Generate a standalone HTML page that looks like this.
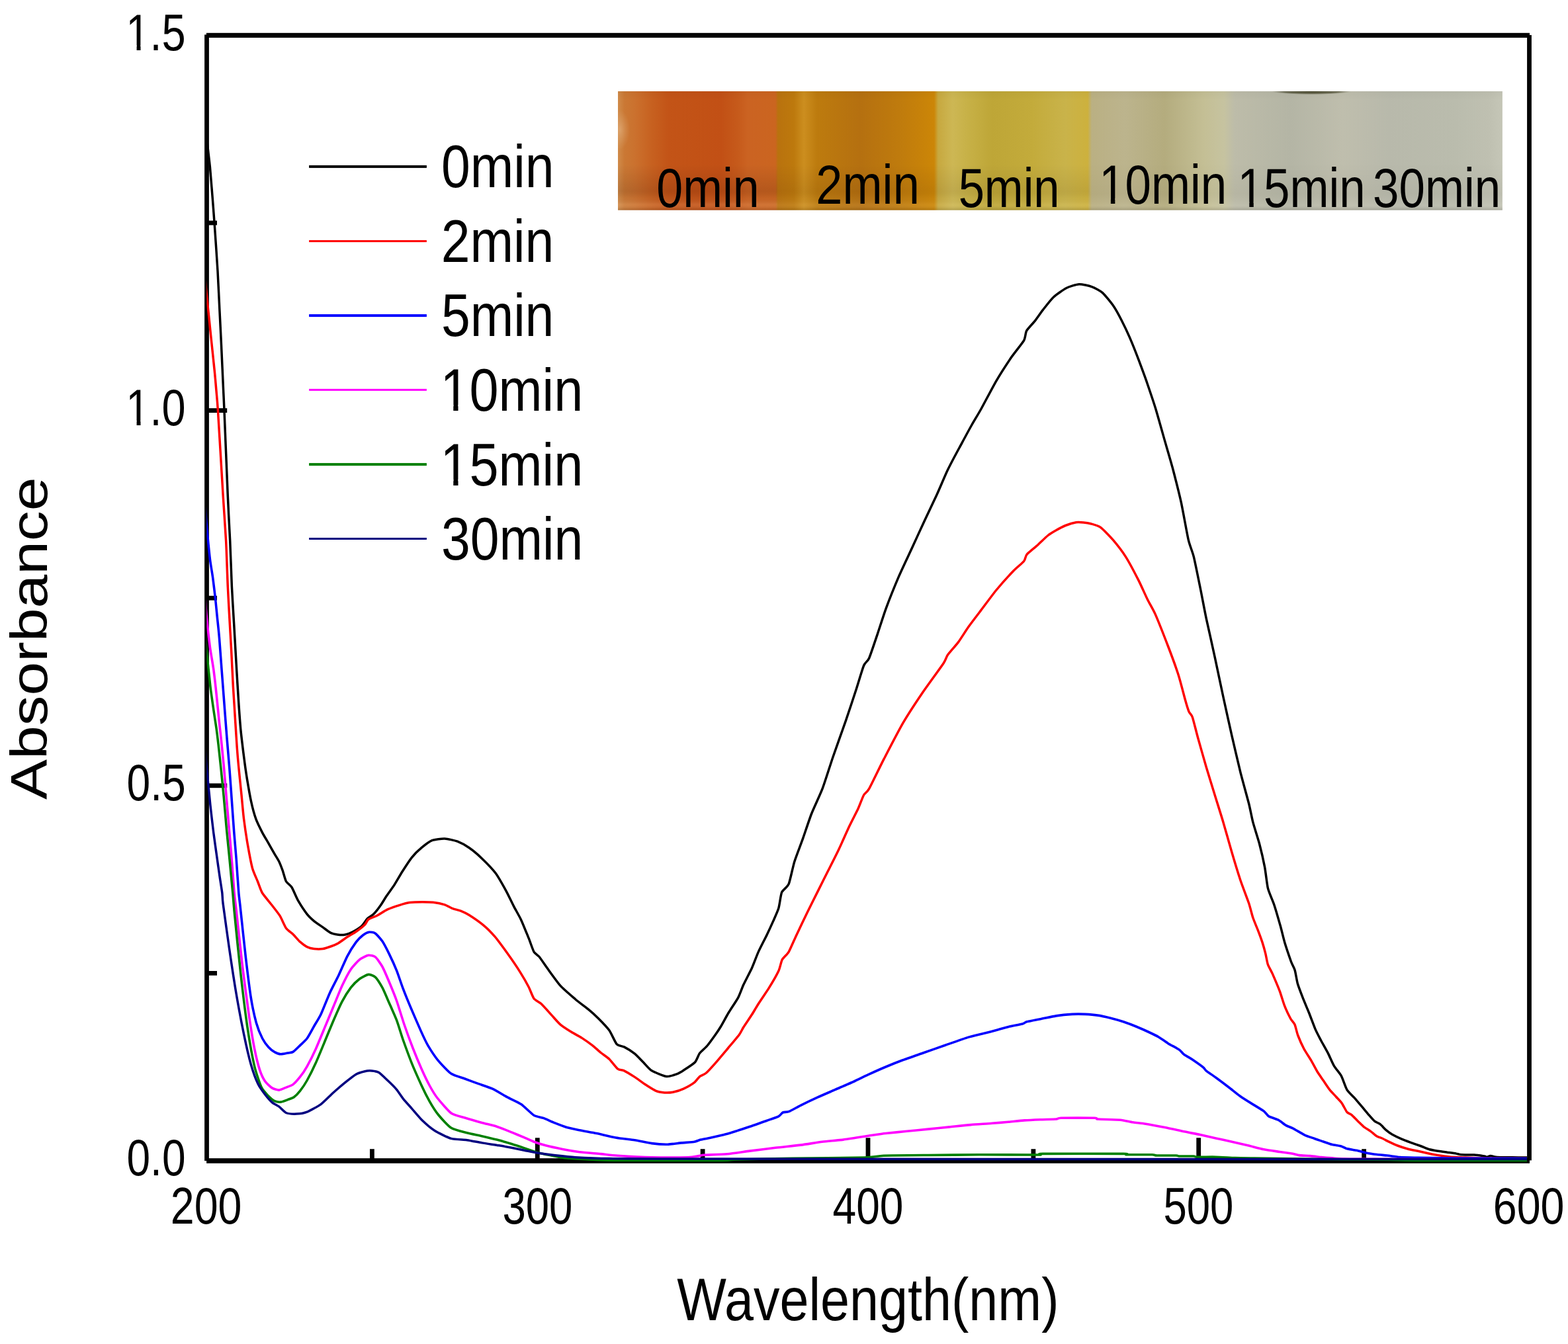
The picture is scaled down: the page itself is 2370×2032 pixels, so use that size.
<!DOCTYPE html>
<html lang="en"><head><meta charset="utf-8"><title>UV-Vis absorbance spectra</title>
<style>
html,body{margin:0;padding:0;background:#fff}
body{width:2370px;height:2032px;overflow:hidden}
svg{display:block}
text{font-family:"Liberation Sans",sans-serif;fill:#000}
.ax{stroke:#000;fill:none;stroke-linecap:butt}
.cv{fill:none;stroke-linejoin:round;stroke-linecap:butt}
</style></head><body>
<svg width="2370" height="2032" viewBox="0 0 2370 2032">
<rect width="2370" height="2032" fill="#fff"/>
<defs><clipPath id="c1"><rect x="-20" y="-120" width="1200" height="110.4"/><rect x="25.0" y="-11" width="9.1" height="13"/><rect x="52.5" y="-11" width="1200" height="51"/></clipPath></defs>
<defs><linearGradient id="ih" x1="0" y1="0" x2="1" y2="0"><stop offset="0.0000" stop-color="#d08b4a"/><stop offset="0.0075" stop-color="#ca7834"/><stop offset="0.0194" stop-color="#cb712e"/><stop offset="0.0381" stop-color="#c76120"/><stop offset="0.0568" stop-color="#c35417"/><stop offset="0.1167" stop-color="#c25015"/><stop offset="0.1354" stop-color="#c65a1b"/><stop offset="0.1466" stop-color="#cb6322"/><stop offset="0.1780" stop-color="#cb6520"/><stop offset="0.1810" stop-color="#b9720e"/><stop offset="0.1990" stop-color="#bd790d"/><stop offset="0.2102" stop-color="#cc8e1f"/><stop offset="0.2251" stop-color="#bd7b0e"/><stop offset="0.2738" stop-color="#b57010"/><stop offset="0.3186" stop-color="#bf7b0d"/><stop offset="0.3575" stop-color="#cc8607"/><stop offset="0.3620" stop-color="#c7a83f"/><stop offset="0.3785" stop-color="#cdb754"/><stop offset="0.3949" stop-color="#c7b147"/><stop offset="0.4234" stop-color="#bea637"/><stop offset="0.4682" stop-color="#c3ab3b"/><stop offset="0.5056" stop-color="#c9b34a"/><stop offset="0.5311" stop-color="#cdb13d"/><stop offset="0.5356" stop-color="#bab083"/><stop offset="0.5730" stop-color="#bcb48d"/><stop offset="0.6178" stop-color="#b4ac7e"/><stop offset="0.6627" stop-color="#c4bf95"/><stop offset="0.6852" stop-color="#c6c3a0"/><stop offset="0.6971" stop-color="#bdbca9"/><stop offset="0.7600" stop-color="#b4b5a5"/><stop offset="0.8198" stop-color="#bfbead"/><stop offset="0.8722" stop-color="#b8b9ab"/><stop offset="0.9470" stop-color="#babcad"/><stop offset="0.9844" stop-color="#bfc0b1"/><stop offset="1.0001" stop-color="#c5c6b7"/></linearGradient><linearGradient id="iv" x1="0" y1="0" x2="0" y2="1"><stop offset="0" stop-color="#000" stop-opacity="0.03"/><stop offset="0.08" stop-color="#000" stop-opacity="0"/><stop offset="0.6" stop-color="#000" stop-opacity="0"/><stop offset="0.86" stop-color="#000" stop-opacity="0.035"/><stop offset="0.96" stop-color="#fff" stop-opacity="0.05"/><stop offset="1" stop-color="#000" stop-opacity="0.14"/></linearGradient><radialGradient id="sm" cx="0.5" cy="0" r="0.5" gradientTransform="matrix(1 0 0 2 0 0)"><stop offset="0" stop-color="#3c3c20" stop-opacity="0.95"/><stop offset="0.7" stop-color="#4a4a30" stop-opacity="0.7"/><stop offset="1" stop-color="#606048" stop-opacity="0"/></radialGradient><linearGradient id="iv2" x1="0" y1="0" x2="0" y2="1"><stop offset="0.62" stop-color="#200" stop-opacity="0"/><stop offset="0.84" stop-color="#200" stop-opacity="0.10"/><stop offset="0.9" stop-color="#200" stop-opacity="0.02"/><stop offset="0.95" stop-color="#fec" stop-opacity="0.07"/><stop offset="1" stop-color="#fec" stop-opacity="0"/></linearGradient><radialGradient id="lp"><stop offset="0" stop-color="#e6b888" stop-opacity="0.55"/><stop offset="1" stop-color="#e0b080" stop-opacity="0"/></radialGradient><clipPath id="ic"><rect x="934" y="138" width="1336.9" height="179.7"/></clipPath></defs><rect x="934.0" y="138.0" width="1336.9" height="179.7" fill="url(#ih)"/><rect x="934.0" y="138.0" width="1336.9" height="179.7" fill="url(#iv)"/><rect x="934" y="138" width="241" height="179.7" fill="url(#iv2)"/><rect x="1175" y="138" width="472" height="179.7" fill="url(#iv2)" opacity="0.45"/><ellipse clip-path="url(#ic)" cx="937" cy="196" rx="15" ry="30" fill="url(#lp)"/><rect x="1922" y="138" width="120" height="5" fill="url(#sm)"/><text transform="matrix(0.7172 0 0 0.8286 992.30 313.07)" font-size="100">0min</text><text transform="matrix(0.7216 0 0 0.8345 1233.37 308.20)" font-size="100">2min</text><text transform="matrix(0.7057 0 0 0.8367 1448.63 313.46)" font-size="100">5min</text><text transform="matrix(0.7087 0 0 0.8367 1661.18 308.36)" font-size="100" clip-path="url(#c1)">10min</text><text transform="matrix(0.7091 0 0 0.8367 1870.58 313.46)" font-size="100" clip-path="url(#c1)">15min</text><text transform="matrix(0.7087 0 0 0.8367 2075.08 313.46)" font-size="100">30min</text>
<g class="ax">
<rect x="309.1" y="52.4" width="6.8" height="1702.7" fill="#000" stroke="none"/>
<rect x="311.9" y="49.8" width="2000.1" height="7.2" fill="#000" stroke="none"/>
<rect x="2308.1" y="53.0" width="6.8" height="1701.4" fill="#000" stroke="none"/>
<rect x="312.1" y="1751.2" width="1999.9" height="7.6" fill="#000" stroke="none"/>
<rect x="312" y="617.2" width="31.2" height="6.8" fill="#000" stroke="none"/>
<rect x="312" y="1184.4" width="31.2" height="6.8" fill="#000" stroke="none"/>
<rect x="312" y="333.6" width="16.0" height="6.8" fill="#000" stroke="none"/>
<rect x="312" y="900.8" width="16.0" height="6.8" fill="#000" stroke="none"/>
<rect x="312" y="1468.0" width="16.0" height="6.8" fill="#000" stroke="none"/>
<rect x="808.9" y="1720.3" width="6.8" height="34.7" fill="#000" stroke="none"/>
<rect x="1308.6" y="1720.3" width="6.8" height="34.7" fill="#000" stroke="none"/>
<rect x="1808.3" y="1720.3" width="6.8" height="34.7" fill="#000" stroke="none"/>
<rect x="559.0" y="1737.2" width="6.8" height="17.8" fill="#000" stroke="none"/>
<rect x="1058.7" y="1737.2" width="6.8" height="17.8" fill="#000" stroke="none"/>
<rect x="1558.5" y="1737.2" width="6.8" height="17.8" fill="#000" stroke="none"/>
<rect x="2058.2" y="1737.2" width="6.8" height="17.8" fill="#000" stroke="none"/>
</g>
<defs><clipPath id="pc"><rect x="312.4" y="53.4" width="1999.6" height="1703.2"/></clipPath></defs>
<g class="cv" clip-path="url(#pc)">
<path d="M311.5 201.0C311.6 201.9 312.2 206.8 312.5 209.5C312.8 212.2 313.9 221.4 314.4 226.0C314.9 230.6 316.8 246.3 317.4 252.5C318.0 258.7 319.4 277.1 320.0 284.0C320.6 290.9 322.2 311.3 322.6 317.0C323.0 322.7 323.4 327.3 324.1 337.2C324.8 347.1 328.2 395.7 329.0 410.0C329.8 424.3 331.4 458.9 332.0 470.8C332.6 482.7 333.9 508.8 334.5 521.5C335.1 534.2 337.1 579.4 337.6 590.0C338.1 600.6 338.3 603.8 339.0 620.9C339.7 638.0 343.4 729.0 344.3 750.0C345.2 771.0 347.0 803.0 347.7 817.6C348.4 832.2 349.8 873.7 350.4 887.0C351.0 900.3 352.9 929.4 353.6 942.0C354.3 954.6 356.5 992.4 357.2 1004.9C357.9 1017.4 359.8 1048.3 360.5 1058.9C361.2 1069.5 363.0 1094.9 363.9 1104.0C364.8 1113.1 367.6 1135.9 368.6 1143.8C369.6 1151.7 372.2 1170.4 373.4 1177.6C374.6 1184.8 378.1 1204.9 379.5 1211.4C380.9 1217.9 385.1 1233.4 386.9 1238.4C388.7 1243.4 394.4 1254.7 396.4 1258.6C398.4 1262.5 403.8 1271.4 405.8 1274.9C407.8 1278.4 413.3 1288.2 415.0 1291.1C416.7 1294.0 420.2 1299.4 421.5 1302.0C422.8 1304.6 425.9 1312.6 427.1 1315.9C428.3 1319.2 430.9 1329.8 432.4 1332.5C433.9 1335.2 439.0 1338.3 441.0 1341.5C443.0 1344.7 448.4 1357.9 450.9 1362.2C453.4 1366.5 461.6 1378.9 464.1 1382.1C466.6 1385.3 472.2 1390.5 474.7 1392.6C477.2 1394.7 485.2 1400.0 487.9 1401.9C490.6 1403.8 497.3 1409.2 499.8 1410.4C502.3 1411.6 509.4 1413.0 511.8 1413.3C514.2 1413.6 520.0 1413.4 522.3 1413.0C524.6 1412.6 530.4 1410.4 532.9 1409.1C535.4 1407.8 543.8 1402.8 546.2 1400.6C548.6 1398.4 553.4 1390.7 555.4 1388.7C557.4 1386.7 562.6 1384.2 564.7 1382.1C566.8 1380.0 573.2 1371.8 575.3 1368.8C577.4 1365.8 582.2 1357.7 584.5 1354.3C586.8 1350.9 594.0 1341.1 596.5 1337.1C599.0 1333.1 605.6 1321.6 608.4 1317.2C611.2 1312.8 619.5 1300.1 622.5 1296.3C625.5 1292.5 633.6 1284.5 636.9 1281.8C640.2 1279.1 649.2 1272.1 653.0 1270.6C656.8 1269.1 668.1 1267.8 672.2 1268.0C676.3 1268.2 687.6 1270.7 691.5 1272.2C695.4 1273.7 705.2 1279.1 709.1 1281.8C713.0 1284.5 724.1 1293.8 728.4 1297.9C732.7 1302.0 745.3 1315.0 749.2 1320.3C753.1 1325.6 762.4 1342.3 765.3 1347.6C768.2 1352.9 774.1 1365.5 776.5 1370.1C778.9 1374.7 785.3 1385.8 787.7 1390.9C790.1 1396.0 796.9 1413.1 799.0 1418.2C801.1 1423.3 805.3 1436.1 807.0 1439.1C808.7 1442.1 812.8 1443.8 815.0 1446.5C817.2 1449.2 824.5 1460.1 827.9 1464.8C831.3 1469.5 842.7 1485.5 847.1 1490.4C851.5 1495.3 865.2 1506.9 869.6 1510.7C874.0 1514.5 885.0 1522.6 888.8 1525.7C892.6 1528.8 901.5 1536.8 904.9 1540.2C908.3 1543.6 918.0 1553.7 920.9 1557.8C923.8 1561.9 929.8 1576.0 932.2 1578.7C934.6 1581.4 940.5 1581.4 943.4 1582.9C946.3 1584.4 956.3 1590.6 959.4 1593.1C962.5 1595.6 969.6 1603.3 972.3 1606.0C975.0 1608.7 981.3 1616.5 985.1 1618.8C988.9 1621.1 1003.5 1627.0 1007.6 1627.5C1011.7 1628.0 1020.9 1624.6 1023.6 1623.6C1026.3 1622.6 1030.3 1620.1 1033.2 1618.2C1036.1 1616.3 1047.9 1608.8 1050.5 1606.0C1053.1 1603.2 1055.6 1595.0 1057.6 1592.3C1059.6 1589.6 1066.5 1584.0 1069.0 1581.0C1071.5 1578.0 1079.2 1567.3 1081.4 1564.2C1083.6 1561.1 1087.4 1555.5 1089.5 1552.0C1091.6 1548.5 1098.2 1536.2 1101.0 1531.5C1103.8 1526.8 1113.4 1512.7 1115.8 1508.1C1118.2 1503.5 1121.6 1493.6 1123.8 1488.8C1126.0 1484.0 1134.2 1468.5 1136.6 1463.2C1139.0 1457.9 1143.9 1444.4 1146.3 1439.1C1148.7 1433.8 1156.7 1418.4 1159.1 1413.4C1161.5 1408.4 1166.8 1396.9 1168.7 1392.6C1170.6 1388.3 1175.4 1377.9 1176.8 1373.3C1178.2 1368.7 1180.0 1353.1 1181.6 1349.2C1183.2 1345.3 1190.2 1341.4 1192.2 1336.4C1194.2 1331.4 1198.5 1310.1 1200.8 1302.7C1203.1 1295.3 1211.0 1275.1 1213.7 1267.4C1216.4 1259.7 1223.4 1238.5 1226.5 1230.5C1229.6 1222.5 1239.6 1201.6 1243.1 1192.4C1246.6 1183.2 1255.3 1155.2 1259.1 1144.2C1262.9 1133.2 1274.6 1100.7 1278.4 1089.7C1282.2 1078.7 1291.5 1050.4 1294.4 1041.5C1297.3 1032.6 1303.5 1011.2 1305.6 1006.2C1307.7 1001.2 1311.5 1000.1 1313.7 995.0C1315.9 989.9 1323.8 966.1 1326.5 958.1C1329.2 950.1 1335.9 928.8 1339.3 919.6C1342.7 910.4 1354.5 881.0 1358.6 871.4C1362.7 861.8 1373.8 838.6 1377.9 829.7C1382.0 820.8 1393.0 796.8 1397.1 788.0C1401.2 779.2 1412.4 755.7 1416.2 747.5C1420.0 739.3 1428.7 718.3 1432.3 710.8C1435.9 703.3 1446.1 684.2 1450.0 677.0C1453.9 669.8 1464.9 649.3 1468.5 643.0C1472.1 636.7 1479.4 624.7 1483.4 617.5C1487.4 610.3 1501.1 584.0 1505.9 575.8C1510.7 567.6 1524.0 547.0 1528.4 540.5C1532.8 534.0 1545.1 519.1 1547.6 514.8C1550.1 510.5 1549.8 503.4 1551.5 500.3C1553.2 497.2 1561.0 489.3 1563.7 485.9C1566.4 482.5 1573.4 472.2 1576.5 468.3C1579.6 464.4 1588.8 452.5 1592.6 449.0C1596.4 445.5 1607.7 437.6 1611.8 435.5C1615.9 433.4 1627.0 429.9 1631.1 429.7C1635.2 429.5 1646.5 432.2 1650.3 433.6C1654.1 435.0 1663.0 439.6 1666.4 442.6C1669.8 445.6 1679.3 457.4 1682.4 461.8C1685.5 466.2 1692.5 479.0 1695.2 484.3C1697.9 489.6 1705.4 505.3 1708.1 511.6C1710.8 517.9 1718.2 536.5 1720.9 543.7C1723.6 550.9 1731.1 571.1 1733.8 579.0C1736.5 586.9 1743.9 608.6 1746.6 617.5C1749.3 626.4 1756.7 652.8 1759.4 662.4C1762.1 672.0 1769.6 697.0 1772.3 707.3C1775.0 717.6 1782.5 747.1 1785.1 758.7C1787.7 770.3 1794.2 807.5 1796.3 816.4C1798.4 825.3 1802.4 833.9 1804.4 842.1C1806.4 850.3 1813.0 883.1 1815.0 893.0C1817.0 902.9 1821.0 924.6 1823.3 935.3C1825.6 946.0 1833.4 980.4 1836.1 993.1C1838.8 1005.8 1846.3 1041.3 1849.0 1054.0C1851.7 1066.7 1859.1 1099.8 1861.8 1111.8C1864.5 1123.8 1871.9 1155.4 1874.6 1166.4C1877.3 1177.4 1885.4 1206.3 1887.5 1214.5C1889.6 1222.7 1892.2 1236.9 1893.9 1243.4C1895.6 1249.9 1901.6 1268.3 1903.5 1275.5C1905.4 1282.7 1910.2 1303.6 1911.6 1310.8C1913.0 1318.0 1914.9 1336.7 1916.4 1342.9C1917.9 1349.1 1924.0 1362.4 1926.0 1368.5C1928.0 1374.6 1933.7 1394.3 1935.4 1400.3C1937.1 1406.3 1940.1 1419.3 1941.8 1425.0C1943.5 1430.7 1949.9 1449.5 1951.5 1454.0C1953.1 1458.5 1956.2 1463.5 1957.2 1467.0C1958.2 1470.5 1960.1 1482.7 1961.3 1487.0C1962.5 1491.3 1966.9 1502.7 1968.7 1507.4C1970.5 1512.1 1976.3 1525.8 1978.4 1531.0C1980.5 1536.2 1986.1 1551.4 1988.0 1555.9C1989.9 1560.4 1994.4 1568.8 1996.5 1572.8C1998.6 1576.8 2005.8 1589.4 2007.9 1593.6C2010.0 1597.8 2014.5 1608.4 2016.6 1611.9C2018.7 1615.4 2025.1 1622.6 2027.2 1626.4C2029.3 1630.2 2033.8 1644.1 2035.9 1647.6C2038.0 1651.1 2044.1 1656.5 2046.5 1659.2C2048.9 1661.9 2055.8 1670.0 2058.1 1672.7C2060.4 1675.4 2065.7 1681.9 2067.8 1684.3C2069.9 1686.7 2075.4 1693.3 2077.4 1694.9C2079.4 1696.5 2084.2 1698.3 2086.1 1699.7C2088.0 1701.1 2092.8 1706.7 2094.8 1708.4C2096.8 1710.1 2101.9 1713.8 2104.4 1715.2C2106.9 1716.6 2115.1 1720.6 2118.0 1721.9C2120.9 1723.2 2128.4 1726.0 2131.5 1727.1C2134.6 1728.2 2143.8 1731.4 2146.9 1732.5C2150.0 1733.6 2157.5 1737.0 2160.4 1737.8C2163.3 1738.6 2171.0 1739.8 2173.9 1740.3C2176.8 1740.8 2184.6 1741.8 2187.5 1742.2C2190.4 1742.6 2198.7 1743.7 2201.0 1744.1C2203.3 1744.5 2205.8 1745.5 2208.7 1745.7C2211.6 1745.9 2224.3 1745.9 2228.0 1746.1C2231.7 1746.3 2241.3 1747.7 2243.4 1748.0C2245.5 1748.3 2246.3 1749.4 2247.3 1749.3C2248.3 1749.2 2251.5 1747.4 2253.1 1747.4C2254.7 1747.4 2256.8 1749.2 2262.7 1749.5C2268.6 1749.8 2303.2 1749.9 2308.0 1750.0" stroke="#000000" stroke-width="3.5"/>
<path d="M310.0 421.0C310.3 423.7 311.4 436.4 312.4 446.0C313.4 455.6 317.8 499.0 319.1 511.4C320.4 523.8 323.6 553.6 324.4 562.0C325.2 570.4 326.4 583.7 326.9 590.0C327.4 596.3 328.3 603.8 329.4 620.9C330.5 638.0 335.9 729.0 337.2 750.0C338.5 771.0 340.8 803.0 341.6 817.6C342.4 832.2 343.7 874.2 344.3 887.0C344.9 899.8 346.4 926.9 347.0 937.3C347.6 947.7 349.1 973.8 349.7 984.6C350.3 995.4 351.7 1027.1 352.4 1038.6C353.1 1050.1 355.2 1083.0 355.8 1092.7C356.4 1102.4 357.7 1123.1 358.2 1130.0C358.7 1136.9 359.8 1150.1 360.5 1157.3C361.2 1164.5 363.7 1189.1 364.6 1197.8C365.5 1206.5 367.5 1229.7 368.6 1238.4C369.7 1247.1 373.3 1271.0 374.7 1278.9C376.1 1286.8 379.9 1306.9 381.5 1312.7C383.1 1318.5 388.0 1329.0 389.6 1333.0C391.2 1337.0 394.1 1346.2 396.4 1350.0C398.7 1353.8 408.4 1365.1 411.2 1368.8C414.0 1372.5 420.8 1381.0 423.1 1384.7C425.4 1388.4 430.3 1400.2 432.4 1403.2C434.5 1406.2 440.6 1410.3 442.9 1412.5C445.2 1414.7 451.2 1421.9 453.5 1423.9C455.8 1425.9 461.8 1430.5 464.1 1431.6C466.4 1432.7 472.2 1434.2 474.7 1434.5C477.2 1434.8 485.1 1434.9 487.9 1434.5C490.7 1434.1 498.7 1431.4 501.2 1430.5C503.7 1429.6 509.3 1427.2 511.8 1425.7C514.3 1424.2 522.2 1418.3 525.0 1416.5C527.8 1414.7 535.4 1410.5 538.2 1408.5C541.0 1406.5 549.5 1399.9 551.5 1397.9C553.5 1395.9 554.8 1391.5 556.8 1390.0C558.8 1388.5 566.9 1385.8 570.0 1384.2C573.1 1382.6 582.2 1376.6 585.9 1374.9C589.6 1373.2 600.8 1369.4 604.4 1368.3C608.0 1367.2 615.7 1365.1 619.3 1364.6C622.9 1364.1 634.7 1363.7 638.5 1363.7C642.3 1363.7 651.0 1363.9 654.6 1364.3C658.2 1364.7 669.1 1366.8 672.2 1367.8C675.3 1368.8 680.8 1372.3 683.4 1373.3C686.0 1374.3 693.6 1376.1 696.3 1377.2C699.0 1378.3 705.3 1381.2 709.1 1383.6C712.9 1386.0 727.5 1396.2 731.6 1399.6C735.7 1403.0 743.8 1411.3 747.6 1415.7C751.4 1420.1 762.8 1435.6 766.9 1441.3C771.0 1447.0 782.7 1464.2 786.1 1469.6C789.5 1475.0 796.8 1487.7 799.0 1492.0C801.2 1496.3 805.0 1507.0 807.0 1509.7C809.0 1512.4 815.3 1515.0 818.2 1517.7C821.1 1520.4 831.2 1532.0 834.3 1535.4C837.4 1538.8 844.0 1546.6 847.1 1549.2C850.2 1551.8 859.8 1558.0 863.2 1560.1C866.6 1562.2 875.8 1566.9 879.2 1569.1C882.6 1571.3 892.1 1577.9 895.2 1580.3C898.3 1582.7 905.4 1589.3 908.1 1591.5C910.8 1593.7 918.2 1598.6 920.9 1601.2C923.6 1603.8 931.4 1614.3 933.8 1616.2C936.2 1618.1 940.7 1617.5 943.4 1618.8C946.1 1620.1 956.0 1626.2 959.4 1628.4C962.8 1630.6 972.1 1637.5 975.5 1639.7C978.9 1641.9 988.4 1648.0 991.5 1649.3C994.6 1650.6 1001.7 1651.7 1004.4 1651.9C1007.1 1652.1 1014.1 1651.8 1017.2 1651.2C1020.3 1650.6 1029.8 1647.7 1033.2 1646.1C1036.6 1644.5 1046.9 1638.6 1049.5 1636.6C1052.1 1634.6 1055.7 1629.1 1057.6 1627.6C1059.5 1626.1 1064.4 1624.7 1067.0 1622.5C1069.6 1620.3 1078.1 1610.9 1081.7 1606.8C1085.3 1602.7 1097.2 1588.5 1101.0 1584.0C1104.8 1579.5 1115.0 1567.5 1117.4 1564.2C1119.8 1560.9 1121.8 1556.2 1123.8 1553.0C1125.8 1549.8 1134.2 1537.6 1136.6 1533.8C1139.0 1530.0 1143.6 1522.0 1146.3 1517.7C1149.0 1513.4 1159.0 1498.9 1162.3 1493.6C1165.6 1488.3 1174.7 1472.5 1176.8 1468.0C1178.9 1463.5 1180.6 1454.1 1182.2 1451.0C1183.8 1447.9 1189.9 1443.1 1192.2 1439.1C1194.5 1435.1 1201.0 1419.7 1204.0 1413.4C1207.0 1407.1 1216.7 1386.7 1220.1 1379.7C1223.5 1372.7 1232.7 1354.4 1236.1 1347.6C1239.5 1340.8 1248.8 1322.3 1252.2 1315.5C1255.6 1308.7 1264.8 1290.6 1268.2 1283.4C1271.6 1276.2 1281.2 1254.6 1284.3 1248.1C1287.4 1241.6 1294.8 1227.4 1297.1 1222.5C1299.4 1217.6 1303.8 1205.2 1305.6 1202.0C1307.4 1198.8 1310.4 1198.2 1313.7 1192.4C1317.0 1186.6 1330.6 1158.0 1336.1 1147.4C1341.6 1136.8 1358.8 1103.5 1365.0 1092.9C1371.2 1082.3 1387.4 1057.6 1393.9 1048.0C1400.4 1038.4 1421.9 1009.2 1426.0 1003.0C1430.1 996.8 1430.0 993.6 1432.4 990.2C1434.8 986.8 1445.1 975.5 1448.5 970.9C1451.9 966.3 1460.3 952.7 1464.0 947.5C1467.7 942.3 1478.3 928.5 1482.8 922.6C1487.3 916.7 1500.8 898.3 1506.0 892.0C1511.2 885.7 1527.3 867.8 1531.7 863.2C1536.1 858.6 1545.4 851.2 1547.6 848.5C1549.8 845.8 1549.8 840.9 1552.0 838.3C1554.2 835.7 1565.1 827.1 1568.5 824.0C1571.9 820.9 1581.1 811.8 1584.0 809.5C1586.9 807.2 1593.0 803.6 1595.8 802.0C1598.6 800.4 1607.2 795.8 1610.5 794.5C1613.8 793.2 1623.6 790.2 1626.5 789.7C1629.4 789.2 1635.5 789.7 1637.8 789.9C1640.1 790.1 1645.8 790.9 1648.5 791.7C1651.2 792.5 1659.6 794.6 1663.2 797.2C1666.8 799.8 1678.3 811.6 1682.4 816.4C1686.5 821.2 1697.6 835.6 1701.7 842.1C1705.8 848.6 1717.4 870.5 1720.9 877.4C1724.4 884.3 1731.8 901.0 1734.5 906.5C1737.2 912.0 1743.0 921.4 1746.3 928.9C1749.6 936.4 1761.7 967.1 1765.5 977.0C1769.3 986.9 1778.9 1013.3 1781.6 1021.9C1784.3 1030.5 1789.6 1051.5 1791.2 1057.3C1792.8 1063.1 1795.8 1073.0 1797.0 1075.9C1798.2 1078.8 1801.0 1080.3 1802.4 1084.5C1803.8 1088.7 1808.3 1107.0 1810.5 1115.0C1812.7 1123.0 1820.6 1150.7 1823.3 1159.9C1826.0 1169.1 1833.4 1192.8 1836.1 1201.7C1838.8 1210.6 1846.3 1234.2 1849.0 1243.4C1851.7 1252.6 1859.1 1279.1 1861.8 1288.3C1864.5 1297.5 1871.9 1321.8 1874.6 1330.0C1877.3 1338.2 1885.4 1359.1 1887.5 1365.3C1889.6 1371.5 1892.4 1383.4 1893.9 1387.8C1895.4 1392.2 1900.0 1402.9 1901.5 1406.8C1903.0 1410.7 1906.6 1420.4 1907.8 1424.1C1909.0 1427.8 1911.8 1437.7 1912.7 1441.3C1913.6 1444.9 1915.2 1454.7 1916.3 1458.0C1917.4 1461.3 1921.5 1468.0 1923.4 1472.4C1925.3 1476.8 1932.5 1493.7 1934.4 1498.9C1936.3 1504.1 1939.9 1516.3 1941.6 1520.7C1943.3 1525.1 1949.0 1537.0 1950.6 1540.0C1952.2 1543.0 1955.8 1546.3 1957.0 1549.0C1958.2 1551.7 1960.3 1561.6 1961.8 1565.5C1963.3 1569.4 1968.8 1581.8 1970.9 1585.8C1973.0 1589.8 1979.5 1599.5 1981.7 1603.2C1983.9 1606.9 1989.4 1617.6 1991.4 1620.8C1993.4 1624.0 1998.1 1630.6 2000.1 1633.5C2002.1 1636.4 2007.7 1645.0 2009.8 1647.6C2011.9 1650.2 2017.5 1656.0 2019.5 1658.2C2021.5 1660.4 2026.5 1665.4 2028.2 1667.9C2029.9 1670.4 2034.4 1679.5 2035.9 1681.4C2037.4 1683.3 2041.0 1683.9 2042.7 1685.3C2044.4 1686.7 2050.2 1692.9 2052.3 1694.9C2054.4 1696.9 2059.9 1702.6 2062.0 1704.2C2064.1 1705.8 2069.5 1708.8 2071.6 1710.3C2073.7 1711.8 2079.4 1717.0 2081.3 1718.1C2083.2 1719.2 2087.2 1720.2 2089.0 1721.0C2090.8 1721.8 2096.1 1724.6 2098.6 1725.8C2101.1 1727.0 2109.1 1730.8 2112.2 1732.0C2115.3 1733.2 2124.3 1736.1 2127.6 1737.0C2130.9 1737.9 2139.8 1739.6 2143.1 1740.3C2146.4 1741.0 2155.2 1743.0 2158.5 1743.7C2161.8 1744.4 2170.4 1746.0 2173.9 1746.6C2177.4 1747.2 2187.4 1748.6 2191.3 1749.0C2195.2 1749.4 2205.9 1749.7 2210.6 1749.9C2215.3 1750.1 2225.3 1750.7 2235.7 1750.9C2246.1 1751.1 2300.3 1751.4 2308.0 1751.5" stroke="#ff0000" stroke-width="3.5"/>
<path d="M310.0 762.0C310.2 765.4 311.5 785.2 312.3 794.0C313.1 802.8 316.3 836.3 317.3 844.6C318.3 852.9 320.5 865.3 321.4 871.6C322.3 877.9 324.6 897.3 325.4 904.1C326.2 910.9 327.8 928.5 328.5 935.0C329.2 941.5 330.8 956.1 331.5 965.0C332.2 973.9 334.6 1006.9 335.5 1018.4C336.4 1029.9 338.8 1062.1 339.6 1072.4C340.4 1082.7 342.1 1105.2 342.9 1115.0C343.7 1124.8 346.2 1153.8 347.0 1164.1C347.8 1174.4 349.7 1201.3 350.4 1211.4C351.1 1221.5 353.1 1249.2 353.8 1258.6C354.5 1268.0 356.5 1289.5 357.2 1299.2C357.9 1308.9 360.1 1342.0 360.8 1350.0C361.5 1358.0 362.4 1363.6 363.5 1374.1C364.6 1384.6 369.8 1433.8 371.5 1448.2C373.2 1462.6 377.7 1498.6 379.4 1509.1C381.1 1519.6 385.5 1539.7 387.3 1546.2C389.1 1552.7 394.6 1566.1 396.6 1570.0C398.6 1573.9 403.9 1581.0 405.9 1583.2C407.9 1585.4 413.1 1589.5 415.1 1590.6C417.1 1591.7 422.3 1593.7 424.4 1593.8C426.5 1593.9 433.0 1592.4 435.0 1592.0C437.0 1591.6 440.9 1591.6 442.9 1590.4C444.9 1589.2 451.2 1582.8 453.5 1580.6C455.8 1578.4 461.8 1573.1 464.1 1570.0C466.4 1566.9 472.4 1555.5 474.7 1551.5C477.0 1547.5 482.8 1538.3 485.3 1532.9C487.8 1527.5 495.7 1507.4 498.5 1501.2C501.3 1495.0 509.0 1480.6 511.8 1474.7C514.6 1468.8 522.2 1451.0 525.0 1445.6C527.8 1440.2 535.7 1427.8 538.2 1424.4C540.7 1421.0 546.7 1415.4 548.8 1413.8C550.9 1412.2 556.1 1409.6 558.1 1409.3C560.1 1409.0 565.2 1409.7 567.3 1411.2C569.4 1412.7 575.6 1419.7 577.9 1423.1C580.2 1426.5 586.2 1438.2 588.5 1442.9C590.8 1447.6 597.3 1461.9 599.5 1467.4C601.7 1472.9 606.7 1488.1 609.0 1494.2C611.3 1500.3 618.5 1518.0 621.4 1524.8C624.3 1531.6 633.3 1552.4 636.0 1558.4C638.7 1564.4 644.0 1575.9 646.8 1580.6C649.6 1585.3 658.0 1598.2 661.8 1602.8C665.6 1607.4 677.6 1620.3 682.0 1623.3C686.4 1626.3 698.4 1629.4 702.7 1631.0C707.0 1632.6 717.6 1636.5 722.0 1638.1C726.4 1639.7 739.6 1643.9 744.4 1646.1C749.2 1648.3 762.3 1656.4 766.9 1658.9C771.5 1661.4 783.4 1666.6 787.7 1669.5C792.0 1672.4 803.4 1684.0 807.0 1686.2C810.6 1688.4 818.1 1689.2 821.4 1690.4C824.7 1691.6 833.7 1695.9 837.5 1697.4C841.3 1698.9 852.6 1703.3 856.7 1704.5C860.8 1705.7 871.2 1707.7 876.0 1708.7C880.8 1709.7 895.9 1712.3 901.7 1713.5C907.5 1714.7 924.4 1718.8 930.6 1719.9C936.8 1721.0 953.6 1722.8 959.4 1723.7C965.2 1724.6 979.8 1727.9 985.1 1728.6C990.4 1729.3 1004.4 1730.3 1009.2 1730.2C1014.0 1730.1 1025.7 1728.3 1030.0 1727.9C1034.3 1727.5 1046.5 1726.8 1049.6 1726.3C1052.7 1725.8 1056.3 1723.8 1059.2 1723.1C1062.1 1722.4 1073.0 1720.5 1077.0 1719.6C1081.0 1718.7 1093.0 1715.9 1097.0 1714.8C1101.0 1713.7 1110.0 1710.9 1114.2 1709.6C1118.4 1708.3 1131.8 1703.8 1136.6 1702.2C1141.4 1700.6 1154.8 1695.7 1159.1 1694.2C1163.4 1692.7 1174.2 1689.1 1176.8 1687.8C1179.4 1686.5 1181.5 1682.8 1183.2 1682.0C1184.9 1681.2 1189.9 1681.6 1192.8 1680.4C1195.7 1679.2 1205.9 1673.4 1210.5 1671.1C1215.1 1668.8 1230.6 1661.4 1236.1 1658.9C1241.6 1656.4 1256.3 1650.1 1261.8 1647.7C1267.3 1645.3 1282.1 1639.0 1287.5 1636.5C1292.9 1634.0 1307.0 1627.1 1312.5 1624.6C1318.0 1622.1 1333.3 1615.3 1338.8 1613.0C1344.3 1610.7 1358.3 1605.1 1364.5 1602.8C1370.7 1600.5 1389.8 1593.9 1396.6 1591.5C1403.4 1589.1 1421.9 1582.7 1428.7 1580.3C1435.5 1577.9 1454.6 1571.0 1460.8 1569.1C1467.0 1567.2 1481.7 1563.8 1486.5 1562.6C1491.3 1561.4 1502.0 1558.6 1506.0 1557.5C1510.0 1556.4 1519.9 1553.5 1524.1 1552.5C1528.3 1551.5 1542.5 1548.8 1545.5 1548.0C1548.5 1547.2 1549.0 1545.6 1551.9 1544.8C1554.8 1544.0 1567.6 1541.6 1572.4 1540.7C1577.2 1539.8 1591.3 1536.7 1596.5 1535.9C1601.7 1535.1 1616.1 1533.7 1620.7 1533.4C1625.3 1533.1 1635.9 1533.2 1640.0 1533.4C1644.1 1533.6 1655.2 1534.5 1659.3 1535.1C1663.4 1535.7 1674.5 1538.2 1678.6 1539.2C1682.7 1540.2 1693.8 1543.4 1697.9 1544.8C1702.0 1546.2 1713.1 1550.3 1717.2 1552.0C1721.3 1553.7 1732.9 1558.8 1736.5 1560.5C1740.1 1562.2 1747.9 1565.9 1751.0 1567.7C1754.1 1569.5 1762.1 1575.3 1765.4 1577.4C1768.7 1579.5 1779.7 1585.2 1782.3 1587.0C1784.9 1588.8 1787.5 1592.8 1789.6 1594.3C1791.7 1595.8 1798.5 1599.4 1801.6 1601.5C1804.7 1603.6 1816.2 1611.7 1818.5 1613.6C1820.8 1615.5 1821.3 1617.4 1823.4 1619.1C1825.5 1620.8 1834.2 1626.6 1837.8 1629.2C1841.4 1631.8 1853.2 1640.7 1857.1 1643.7C1861.0 1646.7 1870.4 1654.4 1874.0 1657.0C1877.6 1659.6 1887.0 1665.5 1890.9 1667.9C1894.8 1670.3 1907.4 1677.8 1910.2 1679.9C1913.0 1682.0 1915.2 1686.2 1917.5 1687.6C1919.8 1689.0 1929.2 1691.7 1932.0 1693.2C1934.8 1694.7 1941.7 1700.3 1944.0 1701.6C1946.3 1702.9 1951.0 1704.3 1954.0 1705.8C1957.0 1707.3 1968.5 1714.4 1972.0 1716.1C1975.5 1717.8 1984.0 1720.4 1987.0 1721.5C1990.0 1722.6 1997.3 1725.0 2000.1 1726.0C2002.9 1727.0 2010.8 1729.9 2013.7 1730.6C2016.6 1731.3 2024.9 1732.3 2027.2 1732.9C2029.5 1733.5 2032.4 1735.7 2034.9 1736.4C2037.4 1737.1 2047.1 1738.6 2050.4 1739.3C2053.7 1740.0 2062.5 1742.5 2065.8 1743.2C2069.1 1743.9 2078.0 1745.1 2081.3 1745.5C2084.6 1745.9 2093.0 1746.6 2096.7 1747.0C2100.4 1747.4 2111.1 1749.1 2116.0 1749.5C2120.9 1749.9 2134.0 1750.1 2143.0 1750.3C2152.0 1750.5 2182.4 1750.9 2200.0 1751.0C2217.6 1751.1 2296.5 1751.4 2308.0 1751.5" stroke="#0000ff" stroke-width="3.6"/>
<path d="M310.0 902.0C310.2 905.3 311.5 924.9 312.3 933.0C313.1 941.1 316.2 969.4 317.3 977.8C318.4 986.2 321.6 1003.7 322.7 1011.6C323.8 1019.5 326.5 1043.5 327.4 1052.2C328.3 1060.9 330.7 1085.5 331.5 1092.7C332.3 1099.9 333.8 1113.1 334.5 1120.0C335.2 1126.9 337.4 1149.0 338.2 1157.3C339.0 1165.6 340.9 1189.1 341.6 1197.8C342.3 1206.5 344.2 1229.0 345.0 1238.4C345.8 1247.8 348.1 1273.8 349.1 1285.7C350.1 1297.6 353.3 1340.6 354.1 1350.0C354.9 1359.4 355.6 1362.5 356.9 1374.1C358.2 1385.7 364.1 1441.3 366.2 1458.8C368.3 1476.3 374.8 1524.6 376.8 1538.2C378.8 1551.8 383.0 1577.4 384.7 1585.9C386.4 1594.4 390.9 1612.4 392.6 1617.6C394.3 1622.8 398.6 1631.9 400.6 1634.8C402.6 1637.7 408.9 1643.5 411.2 1644.9C413.5 1646.3 419.5 1648.2 421.8 1648.1C424.1 1648.0 430.1 1645.0 432.4 1644.1C434.7 1643.2 440.6 1641.3 442.9 1639.6C445.2 1637.9 451.2 1631.1 453.5 1628.2C455.8 1625.3 461.6 1616.8 464.1 1612.3C466.6 1607.8 474.5 1592.1 477.3 1585.9C480.1 1579.7 487.8 1560.9 490.6 1554.1C493.4 1547.3 501.0 1529.1 503.8 1522.3C506.6 1515.5 514.2 1496.7 517.0 1490.6C519.8 1484.5 527.5 1469.6 530.3 1465.4C533.1 1461.2 540.7 1453.2 543.5 1450.9C546.3 1448.6 554.3 1444.7 556.8 1444.3C559.3 1443.9 565.0 1445.1 567.3 1446.9C569.6 1448.7 575.6 1457.4 577.9 1461.5C580.2 1465.6 586.2 1479.8 588.5 1485.3C590.8 1490.8 597.1 1506.2 599.5 1513.0C601.9 1519.8 608.4 1541.4 611.0 1549.0C613.6 1556.6 621.2 1577.3 624.0 1584.5C626.8 1591.7 634.6 1610.4 637.3 1616.5C640.0 1622.6 646.9 1636.9 649.4 1641.5C651.9 1646.1 657.5 1655.6 661.0 1660.0C664.5 1664.4 677.6 1679.8 682.0 1683.0C686.4 1686.2 697.8 1688.5 702.7 1690.0C707.6 1691.5 723.3 1696.0 728.4 1697.4C733.5 1698.8 746.0 1701.7 750.8 1703.2C755.6 1704.7 768.8 1710.1 773.3 1711.9C777.8 1713.7 789.0 1718.4 792.6 1719.9C796.2 1721.4 803.6 1725.0 807.0 1726.3C810.4 1727.6 820.0 1730.6 824.6 1731.8C829.2 1733.0 844.8 1736.4 850.3 1737.5C855.8 1738.6 869.8 1740.9 876.0 1741.7C882.2 1742.5 901.9 1744.0 908.1 1744.6C914.3 1745.2 925.6 1746.7 933.8 1747.2C942.0 1747.7 973.8 1749.4 985.1 1749.7C996.4 1750.0 1032.1 1749.9 1039.7 1749.7C1047.3 1749.5 1053.4 1748.0 1056.0 1747.6C1058.6 1747.2 1059.4 1746.6 1064.0 1746.3C1068.6 1746.0 1091.6 1745.4 1099.0 1744.7C1106.4 1744.0 1125.6 1741.1 1133.4 1740.1C1141.2 1739.1 1163.8 1736.3 1172.0 1735.3C1180.2 1734.3 1203.0 1732.1 1210.5 1731.1C1218.0 1730.1 1235.8 1727.2 1242.6 1726.3C1249.4 1725.4 1267.1 1724.1 1274.6 1723.1C1282.1 1722.1 1305.7 1718.3 1312.5 1717.3C1319.3 1716.3 1332.6 1714.2 1338.8 1713.5C1345.0 1712.8 1364.1 1711.0 1370.9 1710.3C1377.7 1709.6 1396.2 1707.8 1403.0 1707.1C1409.8 1706.4 1428.3 1704.6 1435.1 1703.9C1441.9 1703.2 1460.3 1701.2 1467.2 1700.6C1474.1 1700.0 1493.5 1698.8 1499.6 1698.3C1505.7 1697.8 1518.9 1696.8 1524.1 1696.3C1529.3 1695.8 1543.1 1694.3 1548.3 1693.9C1553.5 1693.5 1567.3 1692.9 1572.4 1692.7C1577.5 1692.5 1593.2 1692.3 1596.5 1692.0C1599.8 1691.7 1597.6 1690.5 1603.8 1690.3C1610.0 1690.1 1648.5 1690.1 1654.4 1690.3C1660.3 1690.5 1655.2 1691.7 1659.3 1692.0C1663.4 1692.3 1687.4 1692.7 1693.1 1693.2C1698.8 1693.7 1708.3 1696.2 1712.4 1696.8C1716.5 1697.4 1726.6 1698.4 1731.7 1699.2C1736.8 1700.0 1754.4 1703.3 1760.6 1704.5C1766.8 1705.7 1783.9 1709.6 1789.6 1710.8C1795.3 1712.0 1808.6 1714.5 1813.7 1715.6C1818.8 1716.7 1832.6 1719.8 1837.8 1720.9C1843.0 1722.0 1856.8 1725.1 1862.0 1726.3C1867.2 1727.5 1881.0 1730.6 1886.1 1731.8C1891.2 1733.0 1905.0 1736.8 1910.2 1737.8C1915.4 1738.8 1929.7 1740.8 1934.4 1741.5C1939.1 1742.2 1950.9 1743.8 1954.0 1744.3C1957.1 1744.8 1960.7 1746.2 1963.5 1746.6C1966.3 1747.0 1976.9 1747.3 1980.5 1747.6C1984.1 1747.9 1993.5 1749.2 1997.0 1749.6C2000.5 1750.0 2008.0 1750.6 2013.7 1750.9C2019.4 1751.2 2018.6 1752.0 2050.0 1752.2C2081.4 1752.4 2280.5 1752.7 2308.0 1752.8" stroke="#ff00ff" stroke-width="3.6"/>
<path d="M310.0 954.0C310.2 957.3 311.4 976.0 312.3 985.0C313.2 994.0 316.9 1029.3 318.0 1038.6C319.1 1047.9 321.8 1065.9 322.7 1072.4C323.6 1078.9 326.0 1093.9 326.8 1099.5C327.6 1105.1 329.2 1118.1 330.0 1125.0C330.8 1131.9 333.3 1155.6 334.2 1164.1C335.1 1172.6 337.3 1195.2 338.2 1204.6C339.1 1214.0 341.4 1241.8 342.3 1251.9C343.2 1262.0 346.0 1288.7 347.0 1299.2C348.0 1309.7 351.0 1341.4 351.8 1350.0C352.6 1358.6 353.1 1366.7 354.3 1379.4C355.5 1392.1 361.4 1450.8 363.5 1469.4C365.6 1488.0 371.8 1538.9 374.1 1554.1C376.4 1569.3 382.4 1602.7 384.7 1612.3C387.0 1621.9 393.0 1639.3 395.3 1644.1C397.6 1648.9 403.8 1655.1 405.9 1657.3C408.0 1659.5 413.1 1663.8 415.1 1664.7C417.1 1665.6 422.3 1666.3 424.4 1666.1C426.5 1665.9 432.9 1663.4 435.0 1662.6C437.1 1661.8 442.3 1660.1 444.3 1658.7C446.3 1657.3 451.4 1652.1 453.5 1649.4C455.6 1646.7 461.6 1638.0 464.1 1633.5C466.6 1629.0 474.5 1613.2 477.3 1607.0C480.1 1600.8 487.8 1582.1 490.6 1575.3C493.4 1568.5 501.0 1550.0 503.8 1543.5C506.6 1537.0 514.2 1519.8 517.0 1514.4C519.8 1509.0 527.5 1496.9 530.3 1493.2C533.1 1489.5 540.7 1482.1 543.5 1480.0C546.3 1477.9 554.3 1473.7 556.8 1473.4C559.3 1473.1 565.0 1475.2 567.3 1477.3C569.6 1479.4 575.6 1489.0 577.9 1493.2C580.2 1497.4 586.2 1511.8 588.5 1517.0C590.8 1522.2 597.2 1536.4 599.5 1542.4C601.8 1548.4 607.2 1566.5 609.7 1573.5C612.2 1580.5 619.8 1601.1 622.7 1608.3C625.6 1615.5 634.5 1635.3 637.3 1641.4C640.1 1647.5 646.7 1660.5 649.4 1665.3C652.1 1670.1 659.5 1681.7 663.0 1686.0C666.5 1690.3 677.4 1702.4 682.0 1705.3C686.6 1708.2 701.0 1711.5 705.9 1712.8C710.8 1714.1 723.6 1716.6 728.4 1717.7C733.2 1718.8 746.0 1721.8 750.8 1723.1C755.6 1724.4 768.8 1728.1 773.3 1729.5C777.8 1730.9 788.5 1734.5 792.6 1735.9C796.7 1737.3 807.7 1741.3 811.8 1742.4C815.9 1743.5 826.3 1745.6 831.1 1746.5C835.9 1747.4 850.5 1750.3 856.7 1751.0C862.9 1751.7 881.3 1752.6 888.8 1753.0C896.3 1753.4 905.8 1754.3 927.3 1754.5C948.8 1754.7 1070.5 1754.7 1090.0 1754.6C1109.5 1754.5 1098.5 1753.6 1110.0 1753.2C1121.5 1752.8 1176.6 1751.6 1197.6 1751.3C1218.6 1751.0 1292.0 1750.5 1306.7 1750.1C1321.4 1749.7 1325.3 1747.6 1335.6 1747.2C1345.9 1746.8 1387.6 1746.6 1403.0 1746.5C1418.4 1746.4 1462.2 1745.9 1480.0 1745.8C1497.8 1745.7 1559.8 1746.1 1570.0 1746.0C1580.2 1745.9 1562.4 1744.6 1576.0 1744.4C1589.6 1744.2 1684.4 1744.3 1697.9 1744.4C1711.4 1744.5 1698.1 1745.7 1702.7 1745.8C1707.3 1745.9 1736.4 1745.7 1741.3 1745.8C1746.2 1745.9 1744.7 1746.9 1748.6 1747.0C1752.5 1747.1 1773.9 1746.9 1777.5 1747.0C1781.1 1747.1 1779.5 1747.9 1782.3 1748.0C1785.1 1748.1 1801.2 1747.9 1804.0 1748.0C1806.8 1748.1 1805.3 1749.1 1808.9 1749.2C1812.5 1749.3 1831.6 1749.1 1837.8 1749.2C1844.0 1749.3 1860.6 1750.4 1866.8 1750.6C1873.0 1750.8 1881.6 1750.9 1895.8 1751.1C1910.0 1751.3 1978.2 1752.2 2000.0 1752.5C2021.8 1752.8 2084.5 1753.3 2100.0 1753.5C2115.5 1753.7 2122.8 1754.5 2145.0 1754.6C2167.2 1754.7 2290.6 1754.6 2308.0 1754.6" stroke="#008000" stroke-width="3.6"/>
<path d="M310.0 1130.0C310.2 1133.2 311.4 1150.6 312.3 1160.0C313.2 1169.4 316.9 1207.6 318.0 1218.1C319.1 1228.6 321.7 1250.7 322.7 1258.6C323.7 1266.5 326.4 1285.2 327.4 1292.4C328.4 1299.6 331.3 1320.1 332.2 1326.2C333.1 1332.3 335.3 1345.7 335.8 1350.0C336.3 1354.3 336.0 1357.4 337.1 1366.2C338.2 1375.0 344.2 1418.0 346.3 1432.4C348.4 1446.8 354.5 1487.1 356.9 1501.2C359.3 1515.3 366.4 1553.1 368.8 1564.7C371.2 1576.3 377.1 1601.8 379.4 1609.7C381.7 1617.6 387.7 1634.0 390.0 1638.8C392.3 1643.6 398.3 1651.7 400.6 1654.7C402.9 1657.7 408.9 1664.6 411.2 1666.6C413.5 1668.6 419.5 1671.5 421.8 1673.2C424.1 1674.9 429.6 1681.3 432.4 1682.5C435.2 1683.7 444.8 1684.2 448.2 1684.1C451.6 1684.0 460.1 1682.8 464.1 1681.2C468.1 1679.6 481.1 1672.4 485.3 1669.3C489.5 1666.2 499.9 1655.5 503.8 1652.0C507.7 1648.5 518.6 1639.2 522.3 1636.2C526.0 1633.2 535.1 1626.0 538.2 1624.2C541.3 1622.4 549.0 1620.3 551.5 1619.7C554.0 1619.1 559.7 1618.8 562.0 1619.0C564.3 1619.2 570.1 1620.1 572.6 1621.6C575.1 1623.1 583.0 1630.8 585.9 1633.5C588.8 1636.2 597.0 1644.3 599.5 1647.3C602.0 1650.3 607.2 1658.6 609.7 1661.7C612.2 1664.8 619.6 1672.8 622.7 1676.3C625.8 1679.8 634.9 1690.7 638.6 1694.3C642.3 1697.9 652.9 1706.9 657.5 1709.8C662.1 1712.7 676.8 1719.9 682.0 1721.4C687.2 1722.9 701.0 1723.0 705.9 1723.7C710.8 1724.4 723.3 1727.0 728.4 1727.9C733.5 1728.8 749.2 1731.0 754.0 1731.8C758.8 1732.6 769.2 1734.5 773.3 1735.3C777.4 1736.1 788.5 1738.4 792.6 1739.2C796.7 1740.0 807.0 1742.2 811.8 1743.0C816.6 1743.8 831.3 1745.8 837.5 1746.5C843.7 1747.2 860.7 1749.2 869.6 1749.7C878.5 1750.2 907.0 1751.4 920.9 1751.6C934.8 1751.8 938.2 1751.9 1000.0 1752.0C1061.8 1752.1 1360.5 1752.4 1500.0 1752.4C1639.5 1752.4 2221.8 1752.4 2308.0 1752.4" stroke="#000080" stroke-width="3.5"/>
</g>
<g>
<rect x="467.1" y="249.9" width="177.8" height="4.0" fill="#000000"/>
<text transform="matrix(0.7865 0 0 0.9020 666.93 282.70)" font-size="100">0min</text>
<rect x="467.1" y="363.1" width="177.8" height="3.0" fill="#ff0000"/>
<text transform="matrix(0.7874 0 0 0.9103 666.74 395.90)" font-size="100">2min</text>
<rect x="467.1" y="475.1" width="177.8" height="4.0" fill="#0000ff"/>
<text transform="matrix(0.7866 0 0 0.9020 666.90 508.00)" font-size="100">5min</text>
<rect x="467.1" y="587.9" width="177.8" height="3.0" fill="#ff00ff"/>
<text transform="matrix(0.7922 0 0 0.9048 665.48 620.70)" font-size="100" clip-path="url(#c1)">10min</text>
<rect x="467.1" y="700.1" width="177.8" height="4.0" fill="#008000"/>
<text transform="matrix(0.7922 0 0 0.9048 665.48 733.50)" font-size="100" clip-path="url(#c1)">15min</text>
<rect x="467.1" y="813.0" width="177.8" height="3.0" fill="#000080"/>
<text transform="matrix(0.7869 0 0 0.9075 666.88 845.79)" font-size="100">30min</text>
</g>
<g>
<text transform="matrix(0.6502 0 0 0.7862 190.34 76.11)" font-size="100" clip-path="url(#c1)">1.5</text>
<text transform="matrix(0.6487 0 0 0.7822 190.36 643.42)" font-size="100" clip-path="url(#c1)">1.0</text>
<text transform="matrix(0.6417 0 0 0.7779 191.49 1210.22)" font-size="100">0.5</text>
<text transform="matrix(0.6403 0 0 0.7793 191.50 1777.42)" font-size="100">0.0</text>
<text transform="matrix(0.6453 0 0 0.7779 257.76 1850.12)" font-size="100">200</text>
<text transform="matrix(0.6348 0 0 0.7779 759.46 1850.12)" font-size="100">300</text>
<text transform="matrix(0.6406 0 0 0.7779 1258.53 1850.12)" font-size="100">400</text>
<text transform="matrix(0.6357 0 0 0.7779 1758.42 1850.12)" font-size="100">500</text>
<text transform="matrix(0.6455 0 0 0.7779 2256.82 1850.12)" font-size="100">600</text>
<text transform="matrix(0.7909 0 0 0.9147 1023.28 1995.82)" font-size="100">Wavelength(nm)</text>
<text transform="matrix(0 -0.9134 0.7850 0 70.81 1208.94)" font-size="100">Absorbance</text>
</g>
</svg></body></html>
